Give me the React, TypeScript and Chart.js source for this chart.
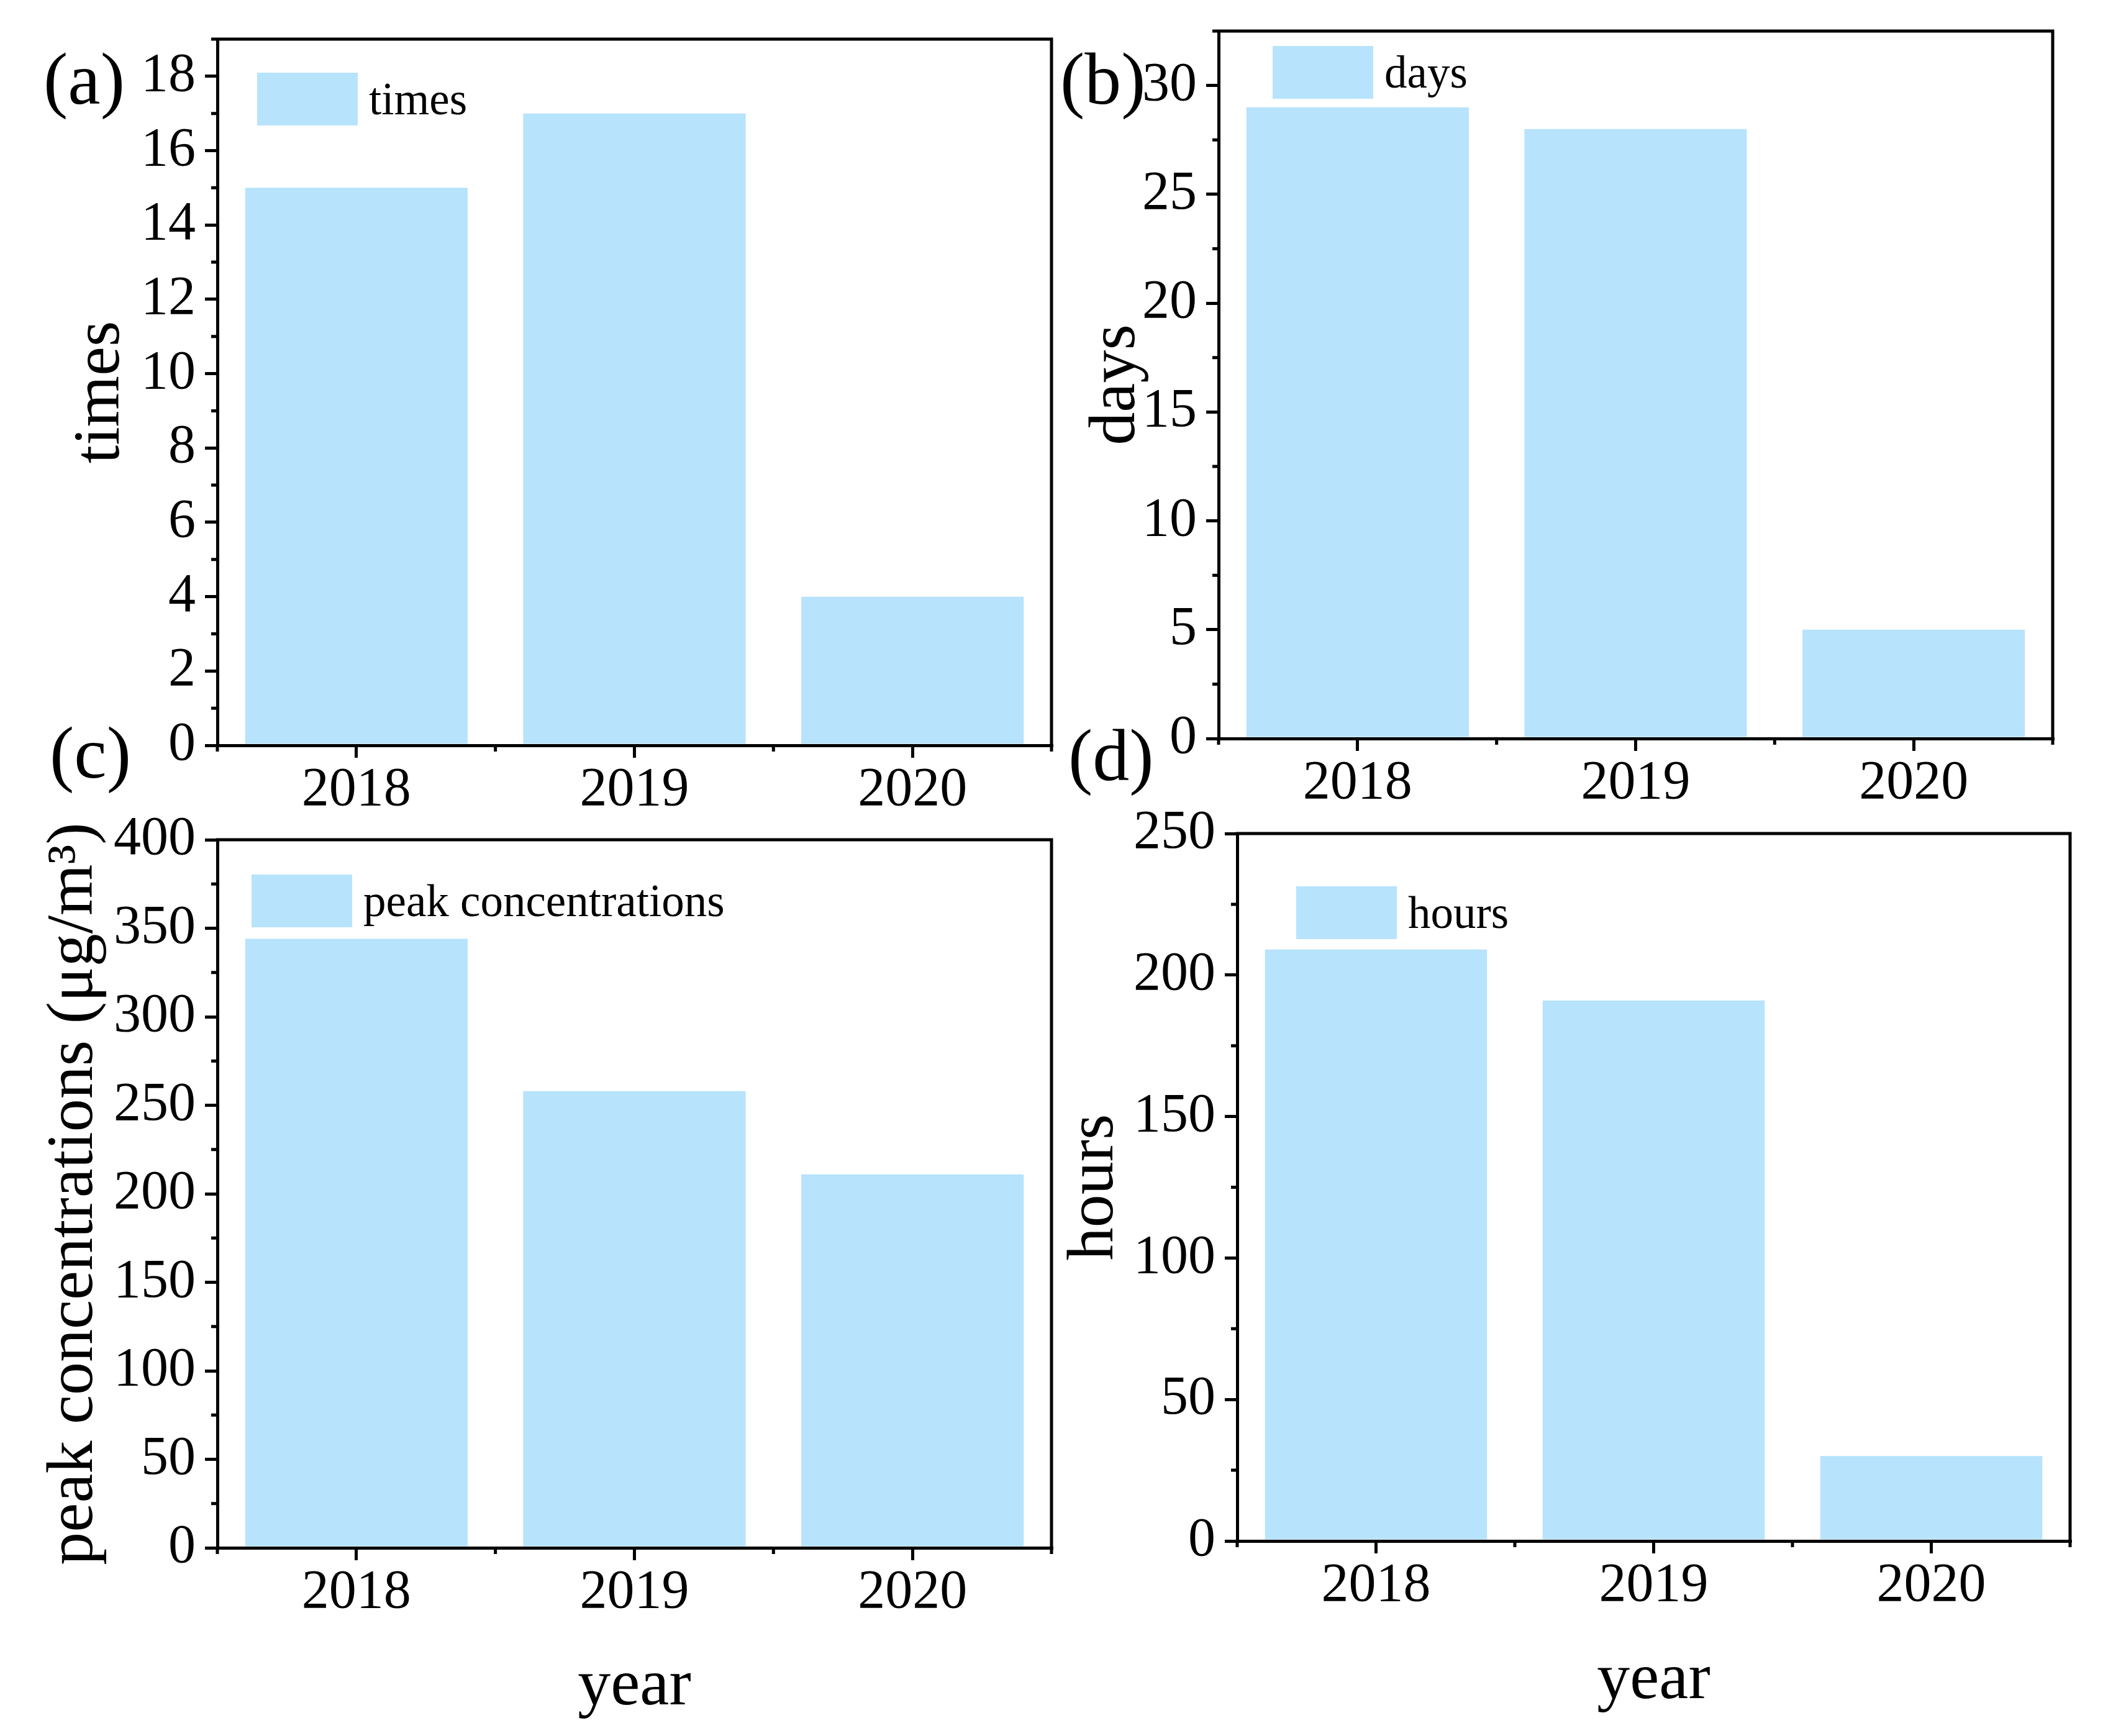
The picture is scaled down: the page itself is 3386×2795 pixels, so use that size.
import React, { useEffect, useRef } from 'react';
import { Chart, registerables } from 'chart.js';

Chart.register(...registerables);

const FONT = "'Liberation Serif', 'Times New Roman', serif";
const BAR_COLOR = '#B7E3FC';
const LINE_W = 5;
const MAJOR_LEN = 20;
const MINOR_LEN = 10;

// ---- data ----
const years = ['2018', '2019', '2020'];
const timesValues = [15, 17, 4];
const daysValues = [29, 28, 5];
const peakValues = [344, 258, 211];
const hoursValues = [209, 191, 30];

// axis ranges / tick steps: [max, major step, minor step]
const timesAxis = [19, 2, 1];
const daysAxis = [32.5, 5, 2.5];
const peakAxis = [400, 50, 25];
const hoursAxis = [250, 50, 25];

type PanelCfg = {
  left: number; top: number; w: number; h: number;
  padTop: number; padRight: number; yW: number; xH: number;
  values: number[]; label: string; yTitle: string; axis: number[];
  yTitlePad: number; xTitle?: string; xTitlePad?: number;
  tag: string; tagX: number; tagY: number; legDx: number; legDy: number;
};

const panels: PanelCfg[] = [
  { left: 0, top: -40, w: 1760, h: 1380, padTop: 103, padRight: 67, yW: 350, xH: 140,
    values: timesValues, label: 'times', yTitle: 'times', axis: timesAxis, yTitlePad: 100,
    tag: '(a)', tagX: 70, tagY: 207, legDx: 64, legDy: 54 },
  { left: 1700, top: -40, w: 1686, h: 1380, padTop: 90, padRight: 81, yW: 262, xH: 151,
    values: daysValues, label: 'days', yTitle: 'days', axis: daysAxis, yTitlePad: 35,
    tag: '(b)', tagX: 7, tagY: 207, legDx: 87, legDy: 24 },
  { left: 0, top: 1150, w: 1760, h: 1645, padTop: 202, padRight: 67, yW: 350, xH: 303,
    values: peakValues, label: 'peak concentrations', yTitle: 'peak concentrations (μg/m³)', axis: peakAxis, yTitlePad: 57,
    xTitle: 'year', xTitlePad: 15, tag: '(c)', tagX: 80, tagY: 102, legDx: 55, legDy: 56 },
  { left: 1700, top: 1150, w: 1686, h: 1645, padTop: 192, padRight: 53, yW: 292, xH: 314,
    values: hoursValues, label: 'hours', yTitle: 'hours', axis: hoursAxis, yTitlePad: 0,
    xTitle: 'year', xTitlePad: 25, tag: '(d)', tagX: 20, tagY: 106, legDx: 95, legDy: 85 },
];

function makePlugins(cfg: PanelCfg) {
  const frame = {
    id: 'frameMinor',
    afterDraw(chart: any) {
      const { ctx, chartArea } = chart;
      const { left, right, top, bottom } = chartArea;
      const ys = chart.scales.y;
      const xs = chart.scales.x;
      const [max, major, minor] = cfg.axis;
      ctx.save();
      ctx.strokeStyle = '#000';
      ctx.lineWidth = LINE_W;
      ctx.lineCap = 'butt';
      ctx.beginPath();
      ctx.moveTo(left - LINE_W / 2, top);
      ctx.lineTo(right + LINE_W / 2, top);
      ctx.moveTo(right, top);
      ctx.lineTo(right, bottom + LINE_W / 2);
      const n = Math.round(max / minor);
      for (let i = 0; i <= n; i++) {
        const v = i * minor;
        const r = v / major;
        if (Math.abs(r - Math.round(r)) < 1e-6) continue;
        const py = ys.getPixelForValue(v);
        ctx.moveTo(left - MINOR_LEN, py);
        ctx.lineTo(left, py);
      }
      const count = chart.data.labels.length;
      for (let i = 0; i <= count; i++) {
        const px = xs.getPixelForValue(i - 0.5);
        ctx.moveTo(px, bottom);
        ctx.lineTo(px, bottom + MINOR_LEN);
      }
      ctx.stroke();
      ctx.restore();
    },
  };
  const legend = {
    id: 'insideLegend',
    afterDraw(chart: any) {
      const { ctx, chartArea } = chart;
      const ds = chart.data.datasets[0];
      const bw = 162, bh = 85;
      const x = chartArea.left + cfg.legDx;
      const y = chartArea.top + cfg.legDy;
      ctx.save();
      ctx.fillStyle = ds.backgroundColor;
      ctx.fillRect(x, y, bw, bh);
      ctx.fillStyle = '#000';
      ctx.font = `73px ${FONT}`;
      ctx.textAlign = 'left';
      ctx.textBaseline = 'middle';
      ctx.fillText(ds.label, x + bw + 18, y + bh / 2 + 5);
      ctx.restore();
    },
  };
  const tag = {
    id: 'panelTag',
    afterDraw(chart: any) {
      const { ctx } = chart;
      ctx.save();
      ctx.fillStyle = '#000';
      ctx.font = `118px ${FONT}`;
      ctx.textAlign = 'left';
      ctx.textBaseline = 'alphabetic';
      ctx.fillText(cfg.tag, cfg.tagX, cfg.tagY);
      ctx.restore();
    },
  };
  return [frame, legend, tag];
}

function Panel({ cfg }: { cfg: PanelCfg }) {
  const ref = useRef<HTMLCanvasElement>(null);
  useEffect(() => {
    if (!ref.current) return;
    const [max, major] = cfg.axis;
    const gridOpts = {
      display: true,
      drawOnChartArea: false,
      drawTicks: true,
      tickLength: MAJOR_LEN,
      lineWidth: LINE_W,
      tickWidth: LINE_W,
      color: '#000',
      tickColor: '#000',
      offset: false,
    };
    const borderOpts = { display: true, width: LINE_W, color: '#000' };
    const chart = new Chart(ref.current, {
      type: 'bar',
      data: {
        labels: years,
        datasets: [
          {
            label: cfg.label,
            data: cfg.values,
            backgroundColor: BAR_COLOR,
            borderWidth: 0,
            barPercentage: 0.8,
            categoryPercentage: 1.0,
          },
        ],
      },
      options: {
        animation: false,
        responsive: false,
        maintainAspectRatio: false,
        devicePixelRatio: 1,
        layout: { padding: { left: 0, top: cfg.padTop, right: cfg.padRight, bottom: 0 } },
        plugins: {
          legend: { display: false },
          tooltip: { enabled: false },
          title: { display: false },
        },
        scales: {
          x: {
            type: 'category',
            offset: true,
            grid: gridOpts as any,
            border: borderOpts,
            ticks: {
              color: '#000',
              font: { family: FONT, size: 88 },
              padding: 0,
              maxRotation: 0,
              autoSkip: false,
            },
            title: {
              display: !!cfg.xTitle,
              text: cfg.xTitle || '',
              color: '#000',
              font: { family: FONT, size: 106 },
              padding: { top: 0, bottom: cfg.xTitlePad || 0 },
            },
            afterFit: (s: any) => {
              s.height = cfg.xH;
            },
          },
          y: {
            type: 'linear',
            min: 0,
            max: max,
            grid: gridOpts as any,
            border: borderOpts,
            ticks: {
              stepSize: major,
              includeBounds: false,
              color: '#000',
              font: { family: FONT, size: 88 },
              padding: 15,
            },
            title: {
              display: true,
              text: cfg.yTitle,
              color: '#000',
              font: { family: FONT, size: 106 },
              padding: { top: cfg.yTitlePad, bottom: 0 },
            },
            afterFit: (s: any) => {
              s.width = cfg.yW;
            },
          },
        },
      } as any,
      plugins: makePlugins(cfg) as any,
    });
    return () => chart.destroy();
  }, [cfg]);
  return (
    <canvas
      ref={ref}
      width={cfg.w}
      height={cfg.h}
      style={{ position: 'absolute', left: cfg.left, top: cfg.top, width: cfg.w, height: cfg.h }}
    />
  );
}

export default function App() {
  return (
    <div
      style={{
        position: 'absolute',
        left: 0,
        top: 0,
        width: 3386,
        height: 2795,
        background: '#fff',
        overflow: 'hidden',
      }}
    >
      {panels.map((p) => (
        <Panel key={p.tag} cfg={p} />
      ))}
    </div>
  );
}
